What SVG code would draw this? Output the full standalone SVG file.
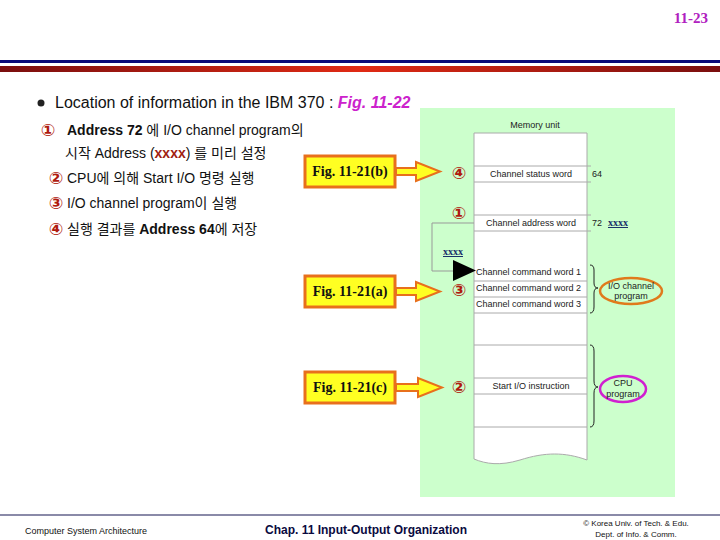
<svg xmlns="http://www.w3.org/2000/svg" width="720" height="540" viewBox="0 0 720 540">
<defs>
<linearGradient id="redbar" x1="0" y1="0" x2="1" y2="0">
<stop offset="0" stop-color="#7a0e0e"/>
<stop offset="0.5" stop-color="#e02a14"/>
<stop offset="1" stop-color="#7a0e0e"/>
</linearGradient>
<style>
.sans{font-family:"Liberation Sans","Noto Sans CJK KR",sans-serif}
.body{font-size:14px;fill:#111}
.num{font-family:"DejaVu Sans","Noto Sans CJK KR",sans-serif;font-size:17px;font-weight:bold;fill:#b01c10}
.cell{font-family:"Liberation Sans",sans-serif;font-size:9px;fill:#222}
.figbox{fill:#ffff22;stroke:#e8701c;stroke-width:3}
.figarrow{fill:#ffff22;stroke:#e8701c;stroke-width:2;stroke-linejoin:miter}
.figtxt{font-family:"Liberation Serif",serif;font-weight:bold;font-size:14px;fill:#111}
.row{stroke:#aaaaaa;stroke-width:1}
.brace{fill:none;stroke:#222;stroke-width:1}
.xx{font-family:"Liberation Serif",serif;font-weight:bold;font-size:10px;fill:#1a2f6a;text-decoration:underline}
</style>
</defs>

<!-- header -->
<g id="header">
<text x="708" y="23" text-anchor="end" font-family="Liberation Serif,serif" font-weight="bold" font-size="15" fill="#b020c0">11-23</text>
<rect x="0" y="60" width="720" height="3" fill="#0a0a78"/>
<rect x="0" y="66" width="720" height="6" fill="url(#redbar)"/>
</g>

<!-- left text -->
<g id="bullets" class="sans">
<circle cx="41" cy="103" r="3.5" fill="#222"/>
<text x="55" y="108" font-size="16" fill="#111">Location of information in the IBM 370 : <tspan fill="#cc22cc" font-style="italic" font-weight="bold">Fig. 11-22</tspan></text>
<text x="48" y="136" text-anchor="middle" class="num">①</text>
<text x="67" y="135" class="body"><tspan font-weight="bold">Address 72</tspan> 에 I/O channel program의</text>
<text x="65" y="158" class="body">시작 Address (<tspan font-weight="bold" fill="#a02010">xxxx</tspan>) 를 미리 설정</text>
<text x="56" y="184" text-anchor="middle" class="num">②</text>
<text x="67" y="183" class="body">CPU에 의해 Start I/O 명령 실행</text>
<text x="56" y="209" text-anchor="middle" class="num">③</text>
<text x="67" y="208" class="body">I/O channel program이 실행</text>
<text x="56" y="235" text-anchor="middle" class="num">④</text>
<text x="67" y="234" class="body">실행 결과를 <tspan font-weight="bold">Address 64</tspan>에 저장</text>
</g>

<!-- green panel -->
<rect x="420" y="108" width="255" height="389" fill="#ccffcc"/>

<!-- memory unit -->
<g id="memory">
<text x="535" y="128" text-anchor="middle" class="cell">Memory unit</text>
<path d="M474,133 H587 V460 C565,452 545,452 520,460 C500,466 486,464 474,459 Z" fill="#ffffff" stroke="#aaaaaa" stroke-width="1"/>
<line class="row" x1="474" y1="166" x2="591" y2="166"/>
<line class="row" x1="474" y1="182" x2="591" y2="182"/>
<line class="row" x1="474" y1="215" x2="591" y2="215"/>
<line class="row" x1="474" y1="231" x2="591" y2="231"/>
<line class="row" x1="474" y1="281" x2="587" y2="281"/>
<line class="row" x1="474" y1="297" x2="587" y2="297"/>
<line class="row" x1="474" y1="313" x2="587" y2="313"/>
<line class="row" x1="474" y1="345" x2="587" y2="345"/>
<line class="row" x1="474" y1="378" x2="587" y2="378"/>
<line class="row" x1="474" y1="394" x2="587" y2="394"/>
<line class="row" x1="474" y1="427" x2="587" y2="427"/>
<text x="531" y="177" text-anchor="middle" class="cell">Channel status word</text>
<text x="592" y="177" class="cell">64</text>
<text x="531" y="226" text-anchor="middle" class="cell">Channel address word</text>
<text x="592" y="226" class="cell">72</text>
<text x="608" y="226" class="xx">xxxx</text>
<text x="476" y="275" class="cell">Channel command word 1</text>
<text x="476" y="291" class="cell">Channel command word 2</text>
<text x="476" y="307" class="cell">Channel command word 3</text>
<text x="531" y="389" text-anchor="middle" class="cell">Start I/O instruction</text>
</g>

<!-- step numbers next to memory -->
<g id="steps">
<text x="459" y="179" text-anchor="middle" class="num">④</text>
<text x="459" y="219" text-anchor="middle" class="num">①</text>
<text x="459" y="296" text-anchor="middle" class="num">③</text>
<text x="459" y="393" text-anchor="middle" class="num">②</text>
</g>

<!-- braces and labels -->
<g id="io-program">
<path class="brace" d="M590,265 Q594,265 594,270 V283 Q594,288 598,288 Q594,288 594,293 V307 Q594,313 590,313"/>
<ellipse cx="631" cy="291" rx="31" ry="13" fill="none" stroke="#e07a1c" stroke-width="2.5"/>
<text x="631" y="289" text-anchor="middle" class="cell">I/O channel</text>
<text x="631" y="299" text-anchor="middle" class="cell">program</text>
</g>
<g id="cpu-program">
<path class="brace" d="M590,345 Q594,345 594,351 V381 Q594,387 598,387 Q594,387 594,393 V421 Q594,427 590,427"/>
<ellipse cx="623" cy="389" rx="23" ry="13" fill="none" stroke="#d020d0" stroke-width="2.5"/>
<text x="623" y="386" text-anchor="middle" class="cell">CPU</text>
<text x="623" y="397" text-anchor="middle" class="cell">program</text>
</g>

<!-- fig callouts -->
<g id="fig-b">
<rect class="figbox" x="305" y="156" width="90" height="31"/>
<polygon class="figarrow" points="396,168 416,168 416,162 440,171.5 416,181 416,175 396,175"/>
<text x="350" y="176" text-anchor="middle" class="figtxt">Fig. 11-21(b)</text>
</g>
<g id="fig-a">
<rect class="figbox" x="305" y="276" width="90" height="31"/>
<polygon class="figarrow" points="396,288 416,288 416,282 440,291.5 416,301 416,295 396,295"/>
<text x="350" y="296" text-anchor="middle" class="figtxt">Fig. 11-21(a)</text>
</g>
<g id="fig-c">
<rect class="figbox" x="305" y="372" width="90" height="31"/>
<polygon class="figarrow" points="396,384 418,384 418,378 442,387.5 418,397 418,391 396,391"/>
<text x="350" y="392" text-anchor="middle" class="figtxt">Fig. 11-21(c)</text>
</g>

<!-- connectors -->
<g id="connectors">
<polyline points="474,223 432,223 432,271 455,271" fill="none" stroke="#999999" stroke-width="1"/>
<text x="453" y="255" text-anchor="middle" class="xx">xxxx</text>
<polygon points="453,260 476,270.5 453,281" fill="#000"/>
</g>

<!-- footer -->
<g id="footer">
<rect x="0" y="514" width="720" height="2" fill="#8a8aa8"/>
<text x="25" y="534" font-family="Liberation Sans,sans-serif" font-size="9" fill="#111">Computer System Architecture</text>
<text x="366" y="534" text-anchor="middle" font-family="Liberation Sans,sans-serif" font-weight="bold" font-size="12" fill="#0a0a40">Chap. 11  Input-Output Organization</text>
<text x="636" y="526" text-anchor="middle" font-family="Liberation Sans,sans-serif" font-size="8" fill="#111">© Korea Univ. of Tech. &amp; Edu.</text>
<text x="636" y="537" text-anchor="middle" font-family="Liberation Sans,sans-serif" font-size="8" fill="#111">Dept. of Info. &amp; Comm.</text>
</g>
</svg>
